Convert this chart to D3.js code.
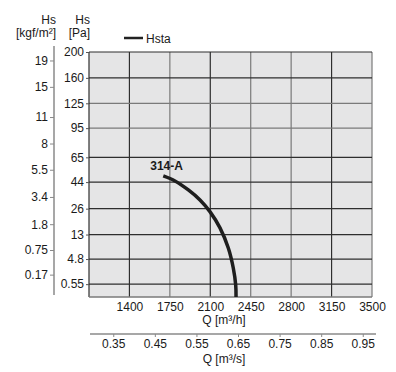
<!DOCTYPE html>
<html>
<head>
<meta charset="utf-8">
<script src="https://cdn.jsdelivr.net/npm/d3@7"></script>
<style>
  body { margin: 0; background: #fff; }
  svg { display: block; font-family: "Liberation Sans", Arial, sans-serif; }
  .axis text { font-size: 12px; fill: #1a1a1a; }
  .lbl { font-size: 12px; fill: #1a1a1a; }
</style>
</head>
<body>
<svg id="chart" width="396" height="372"></svg>
<script>
// Flow ticks (m3/h and m3/s) and pressure ticks (Pa and kgf/m2)
var qTicks = [1400, 1750, 2100, 2450, 2800, 3150, 3500];
var qsTicks = [0.35, 0.45, 0.55, 0.65, 0.75, 0.85, 0.95];
var paTicks = [200, 160, 125, 95, 65, 44, 26, 13, 4.8, 0.55];
var kgfTicks = [19, 15, 11, 8, 5.5, 3.4, 1.8, 0.75, 0.17];

// Curve 314-A, static pressure
var curveQ = [1693, 1794, 1910, 2011, 2097, 2184, 2256, 2299, 2320, 2323];
var curveHs = [48.8, 44.9, 38.2, 31.4, 24.3, 15.9, 8.0, 2.8, 0.48, 0];
var curveName = "314-A";

var svg = d3.select("#chart");
var pL = 89, pR = 372, pT = 52, pB = 297;

var x = d3.scaleLinear().domain([1050, 3500]).range([pL, pR]);
var xs = d3.scaleLinear().domain([1050 / 3600, 3500 / 3600]).range([pL, pR]);
var y = d3.scaleSqrt().domain([0, 200]).range([pB, pT]);
var yk = d3.scaleSqrt().domain([0, 200 / 9.81]).range([pB, pT]);

// plot background
svg.append("rect")
    .attr("x", pL).attr("y", pT)
    .attr("width", pR - pL).attr("height", pB - pT)
    .attr("fill", "#e5e5e6");

// grid
var grayV = [1750, 2450, 2800, 3500];
var grayH = [125, 95];
svg.append("g").selectAll("line").data(qTicks).enter().append("line")
    .attr("x1", function (d) { return x(d); })
    .attr("x2", function (d) { return x(d); })
    .attr("y1", pT).attr("y2", pB)
    .attr("stroke", function (d) { return grayV.indexOf(d) >= 0 ? "#7a7a7a" : "#2e2e2e"; })
    .attr("stroke-width", 1.2);
svg.append("g").selectAll("line").data(paTicks).enter().append("line")
    .attr("x1", pL).attr("x2", pR)
    .attr("y1", function (d) { return y(d); })
    .attr("y2", function (d) { return y(d); })
    .attr("stroke", function (d) { return grayH.indexOf(d) >= 0 ? "#7a7a7a" : "#2e2e2e"; })
    .attr("stroke-width", 1.2);
// left and bottom border
svg.append("line").attr("x1", pL).attr("x2", pL).attr("y1", pT).attr("y2", pB)
    .attr("stroke", "#2e2e2e").attr("stroke-width", 1.2);
svg.append("line").attr("x1", pL).attr("x2", pR).attr("y1", pB).attr("y2", pB)
    .attr("stroke", "#7a7a7a").attr("stroke-width", 1.5);

// Pa axis
var gPa = svg.append("g").attr("class", "axis")
    .attr("transform", "translate(" + pL + ",0)")
    .call(d3.axisLeft(y).tickValues(paTicks).tickFormat(d3.format("")).tickSize(3).tickPadding(2).tickSizeOuter(0));
gPa.select(".domain").remove();
gPa.selectAll(".tick line").attr("stroke", "#555");

// kgf axis
var gK = svg.append("g").attr("class", "axis")
    .attr("transform", "translate(54,0)")
    .call(d3.axisLeft(yk).tickValues(kgfTicks).tickFormat(d3.format("")).tickSize(4).tickPadding(2).tickSizeOuter(0));
gK.select(".domain").remove();
gK.selectAll(".tick line").attr("stroke", "#888");
svg.append("line").attr("x1", 54).attr("x2", 54).attr("y1", 46).attr("y2", 295)
    .attr("stroke", "#8a8a8a").attr("stroke-width", 1.5);

// m3/h axis
var gQ = svg.append("g").attr("class", "axis")
    .attr("transform", "translate(0," + pB + ")")
    .call(d3.axisBottom(x).tickValues(qTicks).tickFormat(d3.format("d")).tickSize(0).tickPadding(5));
gQ.select(".domain").remove();

// m3/s axis
var gQs = svg.append("g").attr("class", "axis")
    .attr("transform", "translate(0,334)")
    .call(d3.axisBottom(xs).tickValues(qsTicks).tickFormat(d3.format(".2f")).tickSize(3).tickPadding(2));
gQs.select(".domain").remove();
gQs.selectAll(".tick line").attr("stroke", "#888");
svg.append("line").attr("x1", 90).attr("x2", 376).attr("y1", 334).attr("y2", 334)
    .attr("stroke", "#8a8a8a").attr("stroke-width", 1.5);

// axis titles
svg.append("text").attr("class", "lbl").attr("x", 224).attr("y", 323.5)
    .attr("text-anchor", "middle").text("Q [m³/h]");
svg.append("text").attr("class", "lbl").attr("x", 224).attr("y", 363)
    .attr("text-anchor", "middle").text("Q [m³/s]");
svg.append("text").attr("class", "lbl").attr("x", 90).attr("y", 24)
    .attr("text-anchor", "end").text("Hs");
svg.append("text").attr("class", "lbl").attr("x", 90).attr("y", 37)
    .attr("text-anchor", "end").text("[Pa]");
svg.append("text").attr("class", "lbl").attr("x", 56).attr("y", 24)
    .attr("text-anchor", "end").text("Hs");
svg.append("text").attr("class", "lbl").attr("x", 56).attr("y", 37)
    .attr("text-anchor", "end").text("[kgf/m²]");

// legend
svg.append("line").attr("x1", 124).attr("x2", 143).attr("y1", 38).attr("y2", 38)
    .attr("stroke", "#222").attr("stroke-width", 2.5);
svg.append("text").attr("class", "lbl").attr("x", 146).attr("y", 42.5).text("Hsta");

// curve
var pts = curveQ.map(function (q, i) { return [q, curveHs[i]]; });
var line = d3.line()
    .x(function (d) { return x(d[0]); })
    .y(function (d) { return y(d[1]); })
    .curve(d3.curveCatmullRom.alpha(0.5));
svg.append("path").datum(pts)
    .attr("d", line)
    .attr("fill", "none")
    .attr("stroke", "#1e1e1e")
    .attr("stroke-width", 3.5);

svg.append("text").attr("class", "lbl")
    .attr("x", x(curveQ[0]) - 13).attr("y", y(curveHs[0]) - 6)
    .attr("font-weight", "bold").text(curveName);
</script>
</body>
</html>
